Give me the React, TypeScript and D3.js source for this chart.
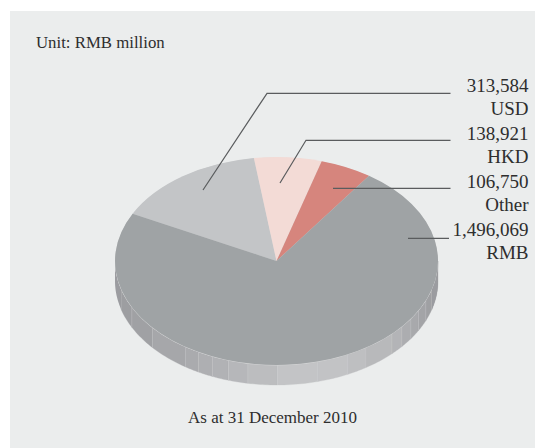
import React from "react";
import * as d3 from "d3";

const W = 535, H = 448;
const categories = ["USD", "HKD", "Other", "RMB"];
const values = [313584, 138921, 106750, 1496069];
const valueLabels = ["313,584", "138,921", "106,750", "1,496,069"];
const colors = ["#c3c5c7", "#f3dbd6", "#d6857d", "#9fa3a5"];
const seamAngles = [-74, -63.6, -50.1, -34.4, -28.9, -23.3, -17.3, -10.2, 0.3, 14.8, 26.2, 33.6, 45.6, 50.9, 56.3, 61.5, 67.6, 74, 90];
const bandColors = ["#9d9ea1", "#a0a1a4", "#a6a7aa", "#aaabae", "#aeafb2", "#b1b2b5", "#b6b7ba", "#bcbdbf", "#c3c4c6", "#c2c3c5", "#bebfc1", "#b8b9bb", "#b3b4b7", "#acadb0", "#a8a9ac", "#a3a4a7", "#9fa0a3", "#9b9ca0"];

const cx = 276.5, cy = 261, rx = 161.5, ry = 104, depth = 20;
const rad = (d: number) => (d * Math.PI) / 180;

const labelRows = [
  { valueY: 91.5, nameY: 114.5, line: [[203, 190], [267, 93.3], [450.5, 93.3]] },
  { valueY: 139.5, nameY: 163, line: [[280, 183], [306, 140.3], [450.5, 140.3]] },
  { valueY: 188, nameY: 211, line: [[333, 188.3], [450.5, 188.3]] },
  { valueY: 236, nameY: 259, line: [[408, 238.3], [449, 238.3]] },
];

function wallPath(a0: number, a1: number) {
  // a = degrees from the bottom of the ellipse, positive to the right
  const pts = d3.range(0, 13).map((i) => a0 + ((a1 - a0) * i) / 12);
  const top = pts.map((a) => [cx + rx * Math.sin(rad(a)), cy + ry * Math.cos(rad(a))] as [number, number]);
  const bot = [...top].reverse().map(([x, y]) => [x, y + depth] as [number, number]);
  return d3.line()([...top, ...bot]) + "Z";
}

export default function App() {
  const pie = d3.pie<number>().sort(null).startAngle(rad(-63)).endAngle(rad(297));
  const arcs = pie(values);
  const arc = d3.arc<d3.PieArcDatum<number>>().innerRadius(0).outerRadius(1);
  const serif = "'Liberation Serif', serif";
  return (
    <svg width={W} height={H} style={{ position: "fixed", left: 0, top: 0, display: "block" }}>
      <rect x={10} y={11} width={W - 10} height={H - 11} fill="#ebeded" />
      <text x={36} y={48} fontFamily={serif} fontSize={16.8} fill="#2e2e2e">Unit: RMB million</text>
      {/* side wall */}
      <path d={wallPath(-90, -74)} fill="#9b9ca0" />
      <path d={wallPath(74, 90)} fill="#9b9ca0" />
      {bandColors.map((c, i) => (
        <path key={i} d={wallPath(seamAngles[i], seamAngles[i + 1])} fill={c} stroke={c} strokeWidth={0.3} />
      ))}
      {seamAngles.slice(1, -1).map((a, i) => {
        const x = cx + rx * Math.sin(rad(a));
        const y = cy + ry * Math.cos(rad(a));
        return <line key={i} x1={x} x2={x} y1={y} y2={y + depth} stroke="#d4d5d6" strokeWidth={0.5} opacity={0.55} />;
      })}
      {/* pale rim under the top face */}
      <ellipse cx={cx} cy={cy + 0.4} rx={rx} ry={ry} fill="#d3d4d5" />
      {/* top face */}
      <g transform={`translate(${cx},${cy}) scale(${rx},${ry})`}>
        {arcs.map((d, i) => (
          <path key={i} d={arc(d) as string} fill={colors[i]} />
        ))}
      </g>
      {/* leader lines */}
      {labelRows.map((r, i) => (
        <path key={i} d={d3.line()(r.line as [number, number][]) as string} fill="none" stroke="#5a5c5e" strokeWidth={1.2} />
      ))}
      {categories.map((c, i) => (
        <g key={c} fontFamily={serif} fontSize={19} fill="#2e2e2e" textAnchor="end">
          <text x={528.5} y={labelRows[i].valueY}>{valueLabels[i]}</text>
          <text x={528.5} y={labelRows[i].nameY}>{c}</text>
        </g>
      ))}
      <text x={272.5} y={423} textAnchor="middle" fontFamily={serif} fontSize={17} fill="#2e2e2e">As at 31 December 2010</text>
    </svg>
  );
}
